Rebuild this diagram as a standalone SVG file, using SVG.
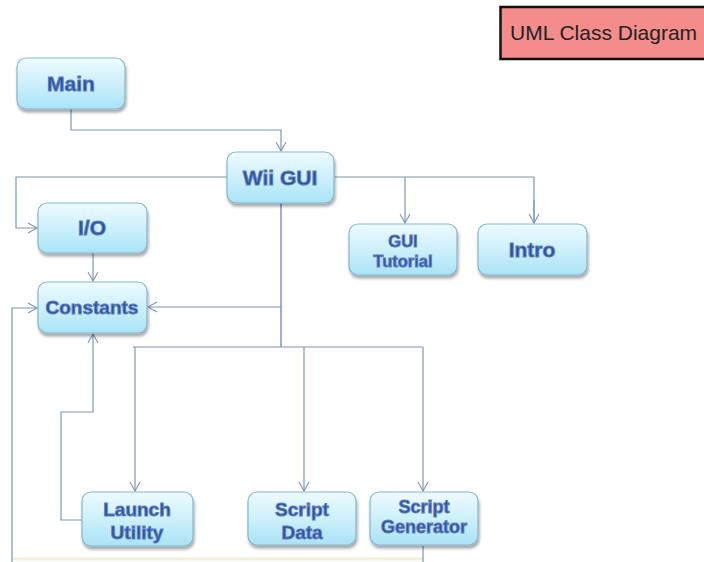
<svg xmlns="http://www.w3.org/2000/svg" width="704" height="562" viewBox="0 0 704 562">
<defs>
<linearGradient id="g" x1="0" y1="0" x2="0" y2="1">
<stop offset="0" stop-color="#eefbfe"/>
<stop offset="0.5" stop-color="#cdf0fb"/>
<stop offset="1" stop-color="#a9e3f6"/>
</linearGradient>
<filter id="sh" x="-20%" y="-20%" width="140%" height="150%">
<feGaussianBlur in="SourceAlpha" stdDeviation="1.5"/>
<feOffset dx="1" dy="2.5" result="o"/>
<feComponentTransfer><feFuncA type="linear" slope="0.35"/></feComponentTransfer>
<feMerge><feMergeNode/><feMergeNode in="SourceGraphic"/></feMerge>
</filter>
<marker id="ar" markerWidth="12" markerHeight="12" refX="10" refY="6" orient="auto" markerUnits="userSpaceOnUse">
<path d="M1,1 L10,6 L1,11" fill="none" stroke="#7d98b4" stroke-width="1.1"/>
</marker>
</defs>
<style>
.box{fill:url(#g);stroke:#86b6cc;stroke-width:1.2;filter:url(#sh)}
.t{font-family:"Liberation Sans",Arial,sans-serif;font-weight:bold;fill:#2d4f9e;stroke:#5f80c0;stroke-width:0.9;text-anchor:middle}
.c{fill:none;stroke:#7d98b4;stroke-width:1.2}
.cb{fill:none;stroke:#6e7fc8;stroke-width:1.3}
</style>
<rect width="704" height="562" fill="#ffffff"/>
<line x1="12" y1="559" x2="423" y2="559" stroke="#f3efd9" stroke-width="3"/>
<g id="connectors">
<path class="c" d="M71,109 V130 H281 V151" marker-end="url(#ar)"/>
<path class="c" d="M227,177 H16 V228 H37" marker-end="url(#ar)"/>
<path class="c" d="M334,177 H534 V223"/>
<path class="c" d="M405,177 V223" marker-end="url(#ar)"/>
<path class="c" d="M534,200 V223" marker-end="url(#ar)"/>
<path class="c" d="M93,253 V281" marker-end="url(#ar)"/>
<path class="cb" d="M281,203 V347"/>
<path class="c" d="M281,307 H148" marker-end="url(#ar)"/>
<path class="c" d="M133,347 H423"/>
<path class="c" d="M135,347 V491" marker-end="url(#ar)"/>
<path class="c" d="M304,347 V491" marker-end="url(#ar)"/>
<path class="c" d="M423,347 V491" marker-end="url(#ar)"/>
<path class="c" d="M83,520 H61 V412 H93 V334" marker-end="url(#ar)"/>
<path class="c" d="M12,562 V308 H37" marker-end="url(#ar)"/>
<path class="c" d="M423,546 V562"/>
</g>
<g id="title">
<rect x="500.5" y="7" width="206" height="52" fill="#f48c8c" stroke="#111" stroke-width="2.5"/>
<text x="510" y="40" font-family="'Liberation Sans',Arial,sans-serif" font-size="21" fill="#222">UML Class Diagram</text>
</g>
<g id="main"><rect class="box" x="17" y="58" width="108" height="51" rx="9"/><text class="t" x="71" y="91" font-size="21">Main</text></g>
<g id="wiigui"><rect class="box" x="227" y="152" width="107" height="51" rx="9"/><text class="t" x="280" y="185" font-size="21">Wii GUI</text></g>
<g id="io"><rect class="box" x="38" y="203" width="109" height="50" rx="9"/><text class="t" x="92" y="235" font-size="21">I/O</text></g>
<g id="constants"><rect class="box" x="38" y="282" width="109" height="51" rx="9"/><text class="t" x="92" y="314" font-size="19">Constants</text></g>
<g id="guitutorial"><rect class="box" x="349" y="224" width="108" height="51" rx="9"/><text class="t" x="403" y="247" font-size="16.5">GUI</text><text class="t" x="403" y="267" font-size="16.5">Tutorial</text></g>
<g id="intro"><rect class="box" x="478" y="224" width="109" height="51" rx="9"/><text class="t" x="532" y="257" font-size="21">Intro</text></g>
<g id="launchutility"><rect class="box" x="82" y="492" width="111" height="54" rx="9"/><text class="t" x="137" y="516" font-size="19">Launch</text><text class="t" x="137" y="539" font-size="19">Utility</text></g>
<g id="scriptdata"><rect class="box" x="248" y="492" width="108" height="53" rx="9"/><text class="t" x="302" y="516" font-size="19">Script</text><text class="t" x="302" y="539" font-size="19">Data</text></g>
<g id="scriptgenerator"><rect class="box" x="370" y="492" width="108" height="53" rx="9"/><text class="t" x="424" y="513" font-size="18">Script</text><text class="t" x="424" y="533" font-size="18">Generator</text></g>
</svg>
